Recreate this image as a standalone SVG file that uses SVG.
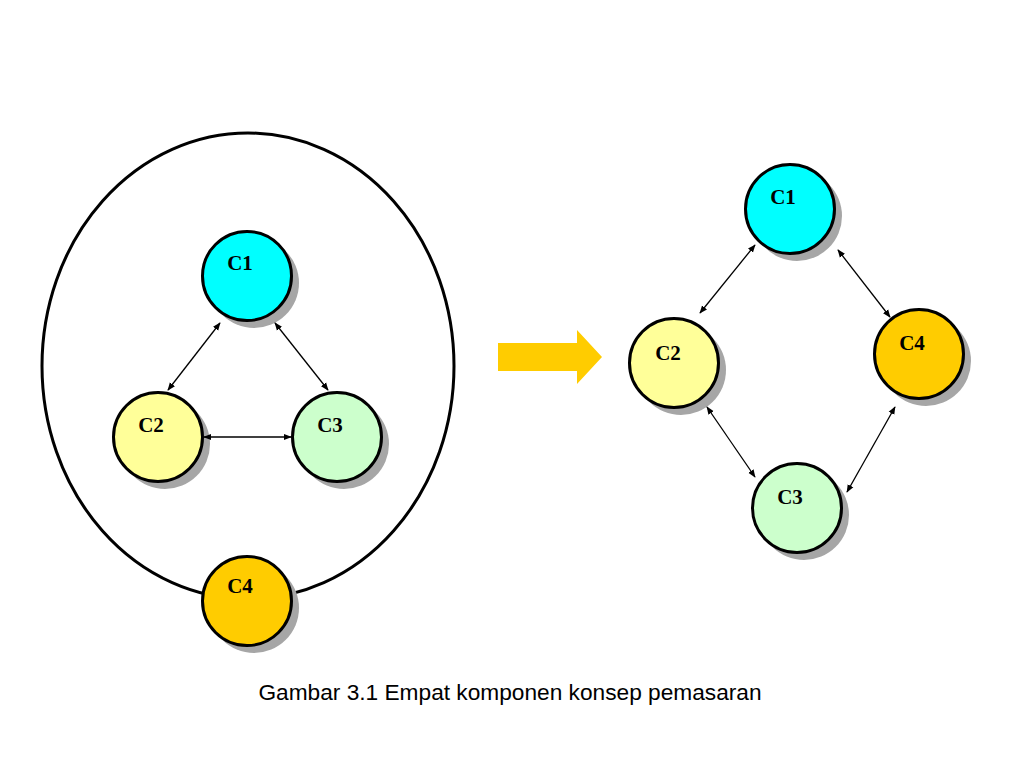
<svg xmlns="http://www.w3.org/2000/svg" width="1024" height="768" viewBox="0 0 1024 768">
<style>
.sh{fill:#a6a6a6}
.nd{stroke:#000;stroke-width:3}
.lb{font-family:"Liberation Serif","Times New Roman",serif;font-weight:bold;font-size:21px;text-anchor:middle;fill:#000}
.cn{stroke:#000;stroke-width:1.3;fill:none;marker-start:url(#ah);marker-end:url(#ah)}
.cap{font-family:"Liberation Sans",Arial,sans-serif;font-size:22.7px;text-anchor:middle;fill:#000}
</style>
<defs>
<marker id="ah" viewBox="0 0 10 10" refX="9" refY="5" markerWidth="8" markerHeight="8" markerUnits="userSpaceOnUse" orient="auto-start-reverse">
<path d="M0,1 L10,5 L0,9 Z" fill="#000"/>
</marker>
</defs>
<rect width="1024" height="768" fill="#fff"/>
<g id="boundary">
<ellipse cx="248" cy="366" rx="206" ry="233" fill="none" stroke="#000" stroke-width="3"/>
</g>
<g id="L-C1">
<circle class="sh" cx="254" cy="283" r="45"/>
<circle class="nd" cx="247" cy="276" r="44.5" fill="#00FFFF"/>
<text class="lb" x="240" y="270">C1</text>
</g>
<g id="L-C2">
<circle class="sh" cx="165" cy="444" r="45"/>
<circle class="nd" cx="158" cy="437" r="44.5" fill="#FFFF99"/>
<text class="lb" x="151" y="432">C2</text>
</g>
<g id="L-C3">
<circle class="sh" cx="344" cy="444" r="45"/>
<circle class="nd" cx="337" cy="437" r="44.5" fill="#CCFFCC"/>
<text class="lb" x="330" y="432">C3</text>
</g>
<g id="L-C4">
<circle class="sh" cx="254" cy="608" r="45"/>
<circle class="nd" cx="247" cy="601" r="44.5" fill="#FFCC00"/>
<text class="lb" x="240" y="593">C4</text>
</g>
<g id="big-arrow">
<polygon points="498,343 577,343 577,330 602,357 577,384 577,371 498,371" fill="#FFCC00"/>
</g>
<g id="R-C1">
<circle class="sh" cx="797" cy="216" r="45"/>
<circle class="nd" cx="790" cy="209" r="44.5" fill="#00FFFF"/>
<text class="lb" x="783" y="204">C1</text>
</g>
<g id="R-C2">
<circle class="sh" cx="681" cy="370" r="45"/>
<circle class="nd" cx="674" cy="363" r="44.5" fill="#FFFF99"/>
<text class="lb" x="668" y="360">C2</text>
</g>
<g id="R-C4">
<circle class="sh" cx="926" cy="361" r="45"/>
<circle class="nd" cx="919" cy="354" r="44.5" fill="#FFCC00"/>
<text class="lb" x="912" y="350">C4</text>
</g>
<g id="R-C3">
<circle class="sh" cx="804" cy="515" r="45"/>
<circle class="nd" cx="797" cy="508" r="44.5" fill="#CCFFCC"/>
<text class="lb" x="790" y="504">C3</text>
</g>
<g id="connectors">
<line class="cn" x1="220" y1="323" x2="168" y2="390"/>
<line class="cn" x1="275" y1="323" x2="328" y2="390"/>
<line class="cn" x1="204" y1="437" x2="291" y2="437"/>
<line class="cn" x1="755" y1="245" x2="700" y2="313"/>
<line class="cn" x1="838" y1="250" x2="890" y2="317"/>
<line class="cn" x1="707" y1="407" x2="755" y2="477"/>
<line class="cn" x1="895" y1="407" x2="847" y2="492"/>
</g>
<g id="caption">
<text class="cap" x="510" y="700">Gambar 3.1 Empat komponen konsep pemasaran</text>
</g>
</svg>
